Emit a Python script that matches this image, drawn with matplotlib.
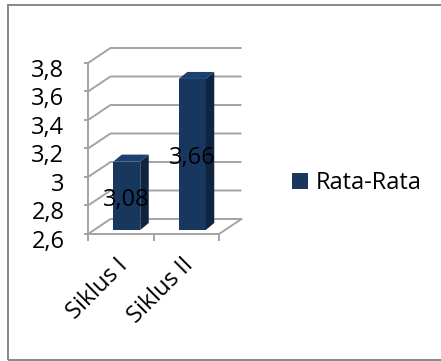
import matplotlib
matplotlib.use("Agg")
import matplotlib.pyplot as plt
import matplotlib.transforms as mtransforms
from matplotlib.patches import Polygon, Rectangle, Patch

# data
kategori = ["Siklus I", "Siklus II"]
rata_rata = [3.08, 3.66]
label_nilai = ["3,08", "3,66"]
y_ticks = [2.6, 2.8, 3.0, 3.2, 3.4, 3.6, 3.8]
y_ticklabels = ["2,6", "2,8", "3", "3,2", "3,4", "3,6", "3,8"]
nama_seri = "Rata-Rata"

plt.rcParams['font.family'] = ['Open Sans', 'DejaVu Sans']

DPI = 100
W, H = 441, 361
ABU = '#a3a3a3'
DEPAN = '#17375e'
SAMPING = '#0f2440'
ATAS = '#1c4170'
FS = 17

fig = plt.figure(figsize=(W / DPI, H / DPI), dpi=DPI)
# bidang depan sumbu (piksel): x 88..219, y 63..234
ax = fig.add_axes([88 / W, (H - 234) / H, 131 / W, 171 / H])
ymin, ymax = y_ticks[0], y_ticks[-1]
x0, x1 = -0.5, len(kategori) - 0.5
ax.set_xlim(x0, x1)
ax.set_ylim(ymin, ymax)

# konversi piksel -> satuan data
px_x = 131 / (x1 - x0)
px_y = 171 / (ymax - ymin)

# geser kedalaman (piksel)
wdx, wdy = 22.5 / px_x, 15 / px_y     # dinding belakang
bdx, bdy = 6 / px_x, 4 / px_y         # muka depan batang
ddx, ddy = 8.5 / px_x, 7 / px_y       # tebal batang
lebar = 27 / px_x

def geser(dx, dy):
    return mtransforms.ScaledTranslation(dx / DPI, dy / DPI, fig.dpi_scale_trans)

# garis kisi di dinding samping + belakang
for v in y_ticks:
    ax.plot([x0, x0 + wdx, x1 + wdx], [v, v + wdy, v + wdy],
            color=ABU, lw=1.4, clip_on=False, zorder=1, solid_capstyle='butt')
# lantai
ax.plot([x0, x1, x1 + wdx], [ymin, ymin, ymin + wdy],
        color=ABU, lw=1.4, clip_on=False, zorder=1)

# batang 3D
pos = list(range(len(kategori)))
tinggi = [v - ymin for v in rata_rata]
ax.bar([p + bdx for p in pos], tinggi, width=lebar, bottom=ymin + bdy,
       color=DEPAN, zorder=3, clip_on=False)
for p, v, lab in zip(pos, rata_rata, label_nilai):
    xl = p + bdx - lebar / 2
    xr = p + bdx + lebar / 2
    yb = ymin + bdy
    yt = v + bdy
    ax.add_patch(Polygon([(xr, yb), (xr + ddx, yb + ddy), (xr + ddx, yt + ddy), (xr, yt)],
                         closed=True, facecolor=SAMPING, edgecolor='none',
                         zorder=3, clip_on=False))
    ax.add_patch(Polygon([(xl, yt), (xr, yt), (xr + ddx, yt + ddy), (xl + ddx, yt + ddy)],
                         closed=True, facecolor=ATAS, edgecolor='none',
                         zorder=3, clip_on=False))
    ax.text(p + bdx, (ymin + v) / 2 + bdy, lab, ha='center', va='center',
            fontsize=FS, color='black', zorder=5,
            transform=ax.transData + geser(0, -4))

# sumbu
for s in ['top', 'right', 'bottom']:
    ax.spines[s].set_visible(False)
ax.spines['left'].set_color(ABU)
ax.spines['left'].set_linewidth(1.4)
ax.set_yticks(y_ticks, y_ticklabels)
ax.tick_params(axis='y', length=3, width=1.4, color=ABU, pad=14, labelsize=FS)
for t in ax.get_yticklabels():
    t.set_transform(t.get_transform() + geser(0, -5))

ax.set_xticks([x0 + i for i in range(len(kategori) + 1)])
ax.set_xticks(pos, minor=True)
ax.set_xticklabels(kategori, minor=True, rotation=45, ha='right', fontsize=FS)
ax.tick_params(axis='x', which='major', length=5, width=1.4, color=ABU, labelbottom=False)
ax.tick_params(axis='x', which='minor', length=0, pad=14)
for t in ax.get_xticklabels(minor=True):
    t.set_transform(t.get_transform() + geser(12, 0))

ax.legend(handles=[Patch(facecolor=DEPAN, label=nama_seri)], loc='center left',
          bbox_to_anchor=(292 / W, 1 - 183 / H), bbox_transform=fig.transFigure,
          frameon=False, handlelength=0.66, handleheight=0.66, handletextpad=0.33,
          borderpad=0, borderaxespad=0, fontsize=FS)

# bingkai grafik
fig.patches.append(Rectangle((8 / W, 1 / H), 1, 355 / H, transform=fig.transFigure,
                             fill=False, edgecolor='#888888', lw=1.4))

fig.savefig('out.png', dpi=DPI)
